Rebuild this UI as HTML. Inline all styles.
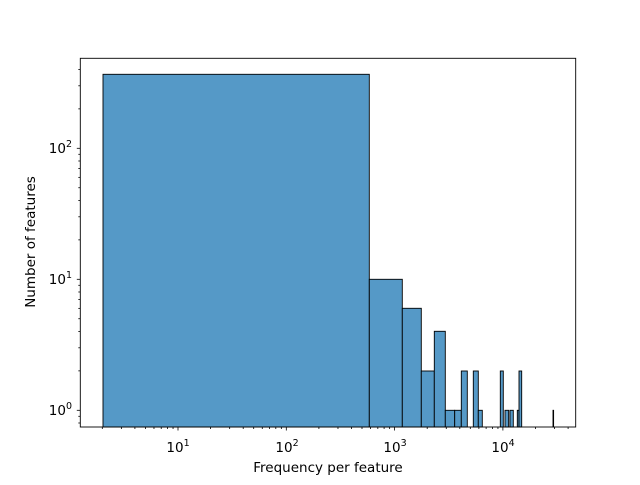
<!DOCTYPE html>
<html><head><meta charset="utf-8"><style>
html,body{margin:0;padding:0;background:#fff;}
svg text{font-family:"DejaVu Sans","Liberation Sans",sans-serif;fill:#000;}
</style></head><body>
<svg id="s" width="640" height="480" viewBox="0 0 640 480" xmlns="http://www.w3.org/2000/svg">
<rect width="640" height="480" fill="#fff"/>
<g fill="#5599c7" stroke="#000" stroke-width="0.9">
<rect x="103" y="74.3" width="266.3" height="352.7"/>
<rect x="369.3" y="279.3" width="33" height="147.7"/>
<rect x="402.3" y="308.3" width="19" height="118.7"/>
<rect x="421.3" y="371" width="13" height="56"/>
<rect x="434.3" y="331.3" width="11" height="95.7"/>
<rect x="445.3" y="410.3" width="9.4" height="16.7"/>
<rect x="454.7" y="410.3" width="6.6" height="16.7"/>
<rect x="461.3" y="371" width="6" height="56"/>
<rect x="473.3" y="371" width="5" height="56"/>
<rect x="478.3" y="410.3" width="4" height="16.7"/>
<rect x="500.3" y="371" width="3" height="56"/>
<rect x="505" y="410.3" width="3.7" height="16.7"/>
<rect x="510" y="410.3" width="3.3" height="16.7"/>
<rect x="517.3" y="410.3" width="1.7" height="16.7"/>
<rect x="519" y="371" width="2.7" height="56"/>
<rect x="553" y="410.3" width="0.6" height="16.7"/>
</g>
<rect x="80.3" y="58.3" width="495.4" height="368.7" fill="none" stroke="#000" stroke-width="0.9"/>
<g id="ticks" stroke="#000" stroke-width="0.8"></g>
<g font-size="13.5">
<text x="178" y="452" text-anchor="middle">10<tspan font-size="9.5" dy="-6">1</tspan></text>
<text x="287" y="452" text-anchor="middle">10<tspan font-size="9.5" dy="-6">2</tspan></text>
<text x="395" y="452" text-anchor="middle">10<tspan font-size="9.5" dy="-6">3</tspan></text>
<text x="503" y="452" text-anchor="middle">10<tspan font-size="9.5" dy="-6">4</tspan></text>
<text x="72" y="415" text-anchor="end">10<tspan font-size="9.5" dy="-6">0</tspan></text>
<text x="72" y="284" text-anchor="end">10<tspan font-size="9.5" dy="-6">1</tspan></text>
<text x="72" y="153" text-anchor="end">10<tspan font-size="9.5" dy="-6">2</tspan></text>
<text x="328" y="472" text-anchor="middle">Frequency per feature</text>
<text transform="translate(35,242) rotate(-90)" text-anchor="middle">Number of features</text>
</g>
</svg>
<script>
var g=document.getElementById('ticks'),h='';
function X(v){return 178+108.3*(Math.log10(v)-1);}
function Y(v){return 410.3-131*Math.log10(v);}
for(var e=0;e<5;e++)for(var k=1;k<10;k++){var v=k*Math.pow(10,e),x=X(v);if(x<80.5||x>575.5)continue;var L=k==1?3.5:2;h+='<line x1="'+x+'" x2="'+x+'" y1="427" y2="'+(427+L)+'"/>';}
for(var e=-1;e<3;e++)for(var k=1;k<10;k++){var v=k*Math.pow(10,e),y=Y(v);if(y<58.5||y>427)continue;var L=k==1?3.5:2;h+='<line x1="80.3" x2="'+(80.3-L)+'" y1="'+y+'" y2="'+y+'"/>';}
g.innerHTML=h;
</script>
</body></html>
